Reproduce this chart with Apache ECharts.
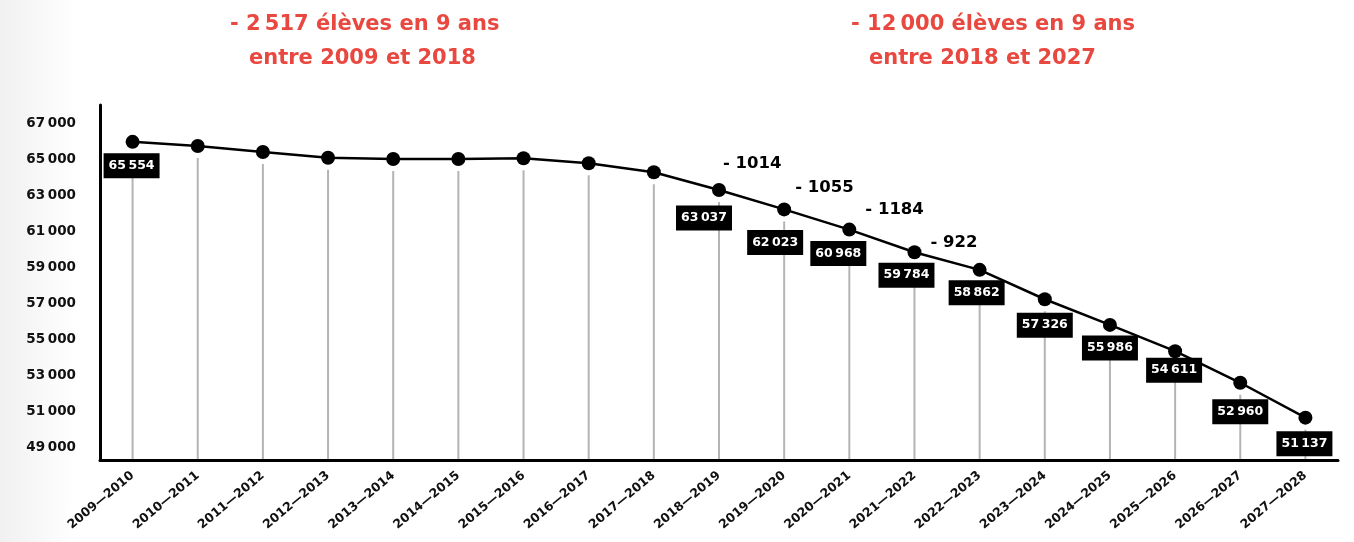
<!DOCTYPE html>
<html>
<head>
<meta charset="utf-8">
<script src="https://cdn.jsdelivr.net/npm/echarts@6/dist/echarts.min.js"></script>
<style>
html,body{margin:0;padding:0;}
#c{width:1354px;height:542px;background:linear-gradient(to right,#f0f0f0 0px,#ffffff 75px);}
</style>
</head>
<body>
<div id="c"></div>
<script>
// ---- data ----
const categories = ['2009—2010','2010—2011','2011—2012','2012—2013','2013—2014','2014—2015','2015—2016','2016—2017','2017—2018','2018—2019','2019—2020','2020—2021','2021—2022','2022—2023','2023—2024','2024—2025','2025—2026','2026—2027','2027—2028'];
const students = [65554, 65337, 65023, 64725, 64657, 64657, 64694, 64433, 63962, 63037, 62023, 60968, 59784, 58862, 57326, 55986, 54611, 52960, 51137];
const showValue = [true, false, false, false, false, false, false, false, false, true, true, true, true, true, true, true, true, true, true];
const diffLabels = [null, null, null, null, null, null, null, null, null, '- 1014', '- 1055', '- 1184', '- 922', null, null, null, null, null, null];
const yTickLabels = [49000, 51000, 53000, 55000, 57000, 59000, 61000, 63000, 65000, 67000];
const titleLines = ['- 2\u202F517 élèves en 9 ans', 'entre 2009 et 2018', '- 12\u202F000 élèves en 9 ans', 'entre 2018 et 2027'];

// ---- styling (label offsets from the point centre) ----
const labelOffsets = [[-1,24],null,null,null,null,null,null,null,null,[-15,28],[-9,33],[-11,24],[-8,23],[-3,23],[0,26],[0,23],[-1,19],[0,29],[-1,26]];
const diffOffsets = [null,null,null,null,null,null,null,null,null,[4,-26],[11,-22],[16,-20],[16,-10]];

const fmt = v => String(v).replace(/\B(?=(\d{3})+(?!\d))/g, '\u202F');
const FONT = 'DejaVu Sans';
const RED = '#e8483f';

const lineData = students.map((v, i) => ({ value: v, label: { show: !!showValue[i] } }));
const diffData = students.map((v, i) => {
  if (!diffLabels[i]) return { value: '-' };
  return { value: v, label: { show: true, formatter: diffLabels[i] } };
});

const titleStyle = { color: RED, fontFamily: FONT, fontWeight: 'bold', fontSize: 21 };

const chart = echarts.init(document.getElementById('c'), null, { renderer: 'canvas' });
chart.setOption({
  backgroundColor: 'transparent',
  animation: false,
  title: [
    { text: titleLines[0], left: 225, top: 9, textStyle: titleStyle },
    { text: titleLines[1], left: 244, top: 43, textStyle: titleStyle },
    { text: titleLines[2], left: 846, top: 9, textStyle: titleStyle },
    { text: titleLines[3], left: 864, top: 43, textStyle: titleStyle }
  ],
  grid: { left: 100, right: 16, top: 105, bottom: 82, containLabel: false },
  xAxis: {
    type: 'category',
    data: categories,
    boundaryGap: true,
    axisLine: { show: true, lineStyle: { color: '#000', width: 3 } },
    axisTick: { show: false },
    splitLine: { show: false },
    axisLabel: { rotate: 40, margin: 14, interval: 0, color: '#111', fontFamily: FONT, fontWeight: 'bold', fontSize: 12.5 }
  },
  yAxis: [
    { type: 'value', min: 48923, max: 67480, show: false, splitLine: { show: false } },
    {
      type: 'value', min: 48278, max: 68000, position: 'left',
      axisLine: { show: true, lineStyle: { color: '#000', width: 3 } },
      axisTick: { show: false },
      splitLine: { show: false },
      axisLabel: {
        customValues: yTickLabels,
        margin: 24, color: '#111', fontFamily: FONT, fontWeight: 'bold', fontSize: 13.5,
        formatter: v => fmt(v)
      }
    }
  ],
  series: [
    {
      type: 'custom',
      yAxisIndex: 0,
      z: 1,
      silent: true,
      data: students.map((v, i) => [i, v]),
      renderItem: function (params, api) {
        const p = api.coord([api.value(0), api.value(1)]);
        const cs = params.coordSys;
        return {
          type: 'line',
          shape: { x1: p[0], y1: p[1] + 12, x2: p[0], y2: cs.y + cs.height - 1 },
          style: { stroke: '#b4b4b4', lineWidth: 2 }
        };
      }
    },
    {
      type: 'line',
      yAxisIndex: 0,
      z: 3,
      data: lineData,
      symbol: 'circle',
      symbolSize: 14,
      itemStyle: { color: '#000' },
      lineStyle: { color: '#000', width: 2.5 },
      label: {
        show: false,
        position: 'inside',
        formatter: p => fmt(p.value),
        backgroundColor: '#000',
        color: '#fff',
        fontFamily: FONT,
        fontWeight: 'bold',
        fontSize: 12.5,
        padding: [6, 5, 5, 5],
        lineHeight: 14
      },
      labelLayout: function (params) {
        const o = labelOffsets[params.dataIndex] || [0, 0];
        return { dx: o[0], dy: o[1], hideOverlap: false };
      }
    },
    {
      type: 'scatter',
      yAxisIndex: 0,
      z: 4,
      symbolSize: 1,
      data: diffData,
      itemStyle: { color: 'rgba(0,0,0,0)', opacity: 1 },
      label: {
        show: false,
        position: 'inside',
        align: 'left',
        color: '#000',
        fontFamily: FONT,
        fontWeight: 'bold',
        fontSize: 16.5
      },
      labelLayout: function (params) {
        const o = diffOffsets[params.dataIndex] || [0, 0];
        return { dx: o[0], dy: o[1], hideOverlap: false };
      }
    }
  ]
});
</script>
</body>
</html>
